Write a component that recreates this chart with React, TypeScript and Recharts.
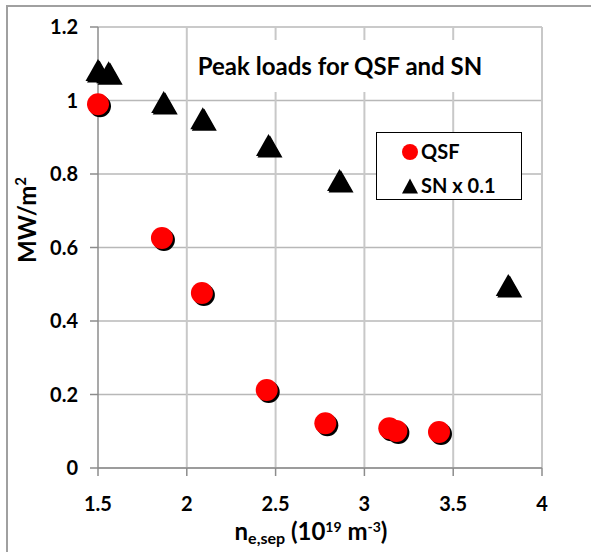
import React from 'react'
import {
  ScatterChart,
  Scatter,
  XAxis,
  YAxis,
  CartesianGrid,
  ReferenceLine,
} from 'recharts'

const qsfX = [1.5, 1.86, 2.085, 2.45, 2.78, 3.14, 3.18, 3.42]
const qsfY = [0.99, 0.626, 0.476, 0.212, 0.122, 0.108, 0.101, 0.098]

const snX = [1.5, 1.56, 1.87, 2.09, 2.46, 2.86, 3.81]
const snY = [1.083, 1.077, 0.996, 0.952, 0.879, 0.784, 0.498]

const xTicks = [1.5, 2, 2.5, 3, 3.5, 4]
const yTicks = [0, 0.2, 0.4, 0.6, 0.8, 1, 1.2]

const qsf = qsfX.map((x, i) => ({ x, y: qsfY[i] }))
const sn = snX.map((x, i) => ({ x, y: snY[i] }))

const FONT = 'Lato, "Open Sans", sans-serif'

const RedDot = (p: any) => (
  <g>
    <circle cx={p.cx + 2} cy={p.cy + 2} r={11} fill="#000" />
    <circle cx={p.cx} cy={p.cy} r={11} fill="#ff0000" />
  </g>
)

const triPts = (cx: number, cy: number, w: number, h: number) =>
  `${cx},${cy - h / 2} ${cx - w / 2},${cy + h / 2} ${cx + w / 2},${cy + h / 2}`

const BlackTri = (p: any) => (
  <g>
    <polygon points={triPts(p.cx + 1.5, p.cy + 1.5, 25, 22)} fill="#000" />
    <polygon points={triPts(p.cx, p.cy, 25, 22)} fill="#000" />
  </g>
)

const LegendBox = () => (
  <div
    style={{
      position: 'absolute',
      left: 376,
      top: 132,
      width: 146,
      height: 68,
      border: '1.5px solid #000',
      background: '#fff',
      boxSizing: 'border-box',
      fontFamily: FONT,
      fontWeight: 700,
      fontSize: 20,
      lineHeight: '22px',
      color: '#000',
    }}
  >
    <svg width={20} height={60} style={{ position: 'absolute', left: 24, top: 4 }}>
      <circle cx={9} cy={15} r={8} fill="#ff0000" />
      <polygon points={triPts(9, 49, 16, 15)} fill="#000" />
    </svg>
    <div style={{ position: 'absolute', left: 44, top: 7 }}>QSF</div>
    <div style={{ position: 'absolute', left: 44, top: 41 }}>SN x 0.1</div>
  </div>
)

const fmtY = (v: number) => (v === 0 || v === 1 ? String(v) : v.toFixed(1))

const tickStyle = { fill: '#000', fontSize: 20, fontWeight: 700, fontFamily: FONT }

export default function App() {
  return (
    <div
      style={{
        position: 'absolute',
        left: 0,
        top: 0,
        width: 591,
        height: 552,
        overflow: 'hidden',
        background: '#fff',
      }}
    >
      <div
        style={{
          position: 'absolute',
          left: 6,
          top: 5,
          width: 700,
          height: 700,
          border: '2px solid #a0a0a0',
        }}
      />
      <div style={{ position: 'absolute', left: 0, top: 0 }}>
        <ScatterChart
          width={591}
          height={552}
          margin={{ top: 27, right: 49, bottom: 44, left: 38 }}
        >
          <CartesianGrid vertical={false} stroke="#b8b8b8" strokeWidth={1.5} />
          {xTicks.slice(1).map((t) => (
            <ReferenceLine
              key={t}
              segment={[
                { x: t, y: 0 },
                { x: t, y: 1.2 },
              ]}
              stroke="#c8c8c8"
              strokeWidth={2}
              ifOverflow="visible"
            />
          ))}
          <XAxis
            type="number"
            dataKey="x"
            domain={[1.5, 4]}
            ticks={xTicks}
            height={40}
            stroke="#8c8c8c"
            strokeWidth={1.5}
            tickSize={8}
            tickMargin={21}
            tick={tickStyle}
          />
          <YAxis
            type="number"
            dataKey="y"
            domain={[0, 1.2]}
            ticks={yTicks}
            width={60}
            stroke="#8c8c8c"
            strokeWidth={1.5}
            tickSize={8}
            tickMargin={12}
            tickFormatter={fmtY}
            tick={tickStyle}
          />
          <Scatter
            name="QSF"
            data={qsf}
            shape={RedDot}
            isAnimationActive={false}
          />
          <Scatter
            name="SN x 0.1"
            data={sn}
            shape={BlackTri}
            isAnimationActive={false}
          />
        </ScatterChart>
      </div>
      <svg
        width={591}
        height={552}
        style={{ position: 'absolute', left: 0, top: 0, pointerEvents: 'none' }}
      >
        <rect x={190} y={40} width={305} height={52} fill="#fff" />
        <text
          x={340}
          y={75}
          textAnchor="middle"
          fontFamily={FONT}
          fontWeight={700}
          fontSize={24}
          fill="#000"
        >
          Peak loads for QSF and SN
        </text>
        <text
          transform="translate(36,220) rotate(-90)"
          textAnchor="middle"
          fontFamily={FONT}
          fontWeight={700}
          fontSize={24}
          fill="#000"
        >
          MW/m<tspan fontSize={15} dy={-10}>2</tspan>
        </text>
        <text
          x={311}
          y={540}
          textAnchor="middle"
          fontFamily={FONT}
          fontWeight={700}
          fontSize={24}
          fill="#000"
        >
          n<tspan fontSize={16} dy={4}>e,sep</tspan>
          <tspan dy={-4}> (10</tspan>
          <tspan fontSize={14} dy={-8}>19</tspan>
          <tspan dy={8}> m</tspan>
          <tspan fontSize={14} dy={-8}>-3</tspan>
          <tspan dy={8}>)</tspan>
        </text>
      </svg>
      <LegendBox />
    </div>
  )
}
